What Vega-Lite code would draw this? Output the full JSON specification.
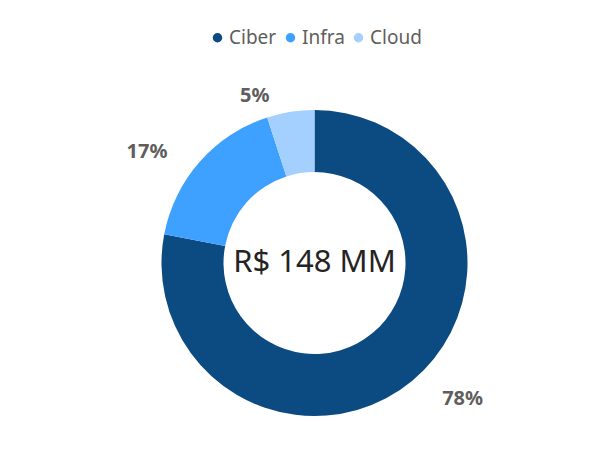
{
  "$schema": "https://vega.github.io/schema/vega-lite/v6.json",
  "width": 611,
  "height": 470,
  "autosize": {"type": "fit", "contains": "padding"},
  "padding": {"left": 18, "right": 0, "top": 28, "bottom": 10},
  "background": "white",
  "config": {"view": {"stroke": null}, "font": "Noto Sans", "legend": {"layout": {"top": {"anchor": "middle"}}}},
  "layer": [
    {
      "data": {"values": [
        {"category": "Ciber", "pct": 0.78},
        {"category": "Infra", "pct": 0.17},
        {"category": "Cloud", "pct": 0.05}
      ]},
      "encoding": {
        "theta": {"field": "pct", "type": "quantitative", "stack": true},
        "order": {"field": "ord", "type": "quantitative"}
      },
      "layer": [
        {
          "mark": {"type": "arc", "outerRadius": 153, "innerRadius": 91},
          "encoding": {
            "color": {
              "field": "category", "type": "nominal",
              "scale": {"domain": ["Ciber", "Infra", "Cloud"], "range": ["#0c4a82", "#3fa1ff", "#a3d0ff"]},
              "legend": {
                "title": null, "orient": "top", "direction": "horizontal",
                "symbolType": "circle", "symbolSize": 90, "symbolStrokeWidth": 0,
                "labelFont": "Noto Sans", "labelFontSize": 19, "labelColor": "#605e5c",
                "labelOffset": 2, "columnPadding": 4
              }
            }
          }
        },
        {
          "mark": {
            "type": "text", "radius": 172, "fontSize": 20, "fontWeight": "bold", "color": "#605e5c",
            "align": {"expr": "datum.category == 'Ciber' ? 'left' : 'right'"},
            "dx": {"expr": "datum.category == 'Ciber' ? 18 : -18"},
            "dy": 3,
            "baseline": "middle"
          },
          "encoding": {"text": {"field": "pct", "type": "quantitative", "format": ".0%"}}
        }
      ]
    },
    {
      "data": {"values": [{"total": "R$ 148 MM"}]},
      "mark": {"type": "text", "fontSize": 31, "color": "#252423", "baseline": "middle", "align": "center"},
      "encoding": {"text": {"field": "total", "type": "nominal"}}
    }
  ]
}
